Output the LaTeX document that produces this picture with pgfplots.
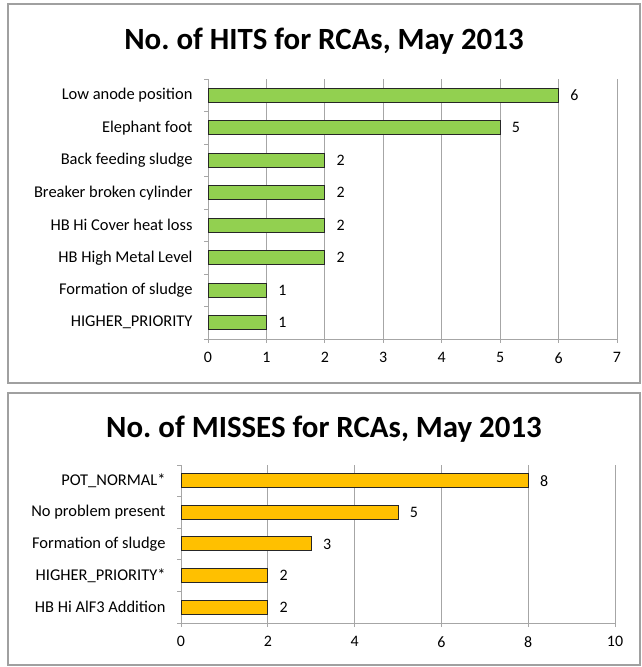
\documentclass[border=0pt]{standalone}
\usepackage{fontspec}
\setmainfont{Carlito}
\usepackage{pgfplots}
\pgfplotsset{compat=1.18}
\definecolor{hitgreen}{HTML}{92D050}
\definecolor{missorange}{HTML}{FFC000}
\definecolor{gridgray}{HTML}{A6A6A6}
\definecolor{framegray}{HTML}{A0A0A0}
\begin{document}
\begin{tikzpicture}
\useasboundingbox (0bp,0bp) rectangle (642bp,667bp);
\draw[framegray,line width=1.2bp] (8bp,284bp) rectangle (640bp,663bp);
\draw[framegray,line width=1.2bp] (8bp,2bp) rectangle (640bp,274bp);
\node[font=\fontsize{31}{36}\selectfont\bfseries] at (324bp,626bp) {No.\ of HITS for RCAs, May 2013};
\node[font=\fontsize{31}{36}\selectfont\bfseries] at (324bp,238bp) {No.\ of MISSES for RCAs, May 2013};
\pgfplotsset{
  mybar/.style={
    xbar, scale only axis,
    /pgf/number format/assume math mode=true,
    ticklabel style={font=\fontsize{16}{19}\selectfont},
    axis lines*=left,
    axis line style={gridgray,line width=0.8bp},
    xmajorgrids, major grid style={gridgray,line width=0.8bp},
    xtick style={gridgray,line width=0.8bp},
    major x tick style={draw=gridgray},
    tick align=outside,
    major tick length=4bp,
    ytick style={draw=none},
    minor y tick style={draw=gridgray,line width=0.8bp},
    minor tick length=4bp,
    nodes near coords,
    nodes near coords style={font=\fontsize{16}{19}\selectfont, black, xshift=8bp},
    every axis plot/.append style={draw=black!85, line width=1bp},
    bar width=14bp,
    yticklabel style={xshift=-8bp, font=\fontsize{16.5}{19}\selectfont},
    clip=false,
  }
}
\begin{axis}[mybar, at={(208bp,328bp)}, anchor=south west, width=409bp, height=260bp,
  xmin=0, xmax=7, xtick={0,1,...,7},
  ymin=0.5, ymax=8.5, ytick={1,...,8},
  minor ytick={0.5,1.5,...,8.5},
  yticklabels={HIGHER\_PRIORITY, Formation of sludge, HB High Metal Level, HB Hi Cover heat loss, Breaker broken cylinder, Back feeding sludge, Elephant foot, Low anode position},
  xticklabel style={yshift=-6bp}]
\addplot[fill=hitgreen] coordinates {(1,1) (1,2) (2,3) (2,4) (2,5) (2,6) (5,7) (6,8)};
\end{axis}
\begin{axis}[mybar, at={(181bp,44bp)}, anchor=south west, width=434bp, height=158bp,
  xmin=0, xmax=10, xtick={0,2,...,10},
  ymin=0.5, ymax=5.5, ytick={1,...,5},
  minor ytick={0.5,1.5,...,5.5},
  yticklabels={HB Hi AlF3 Addition, HIGHER\_PRIORITY*, Formation of sludge, No problem present, POT\_NORMAL*},
  xticklabel style={yshift=-6bp}]
\addplot[fill=missorange] coordinates {(2,1) (2,2) (3,3) (5,4) (8,5)};
\end{axis}
\end{tikzpicture}
\end{document}
